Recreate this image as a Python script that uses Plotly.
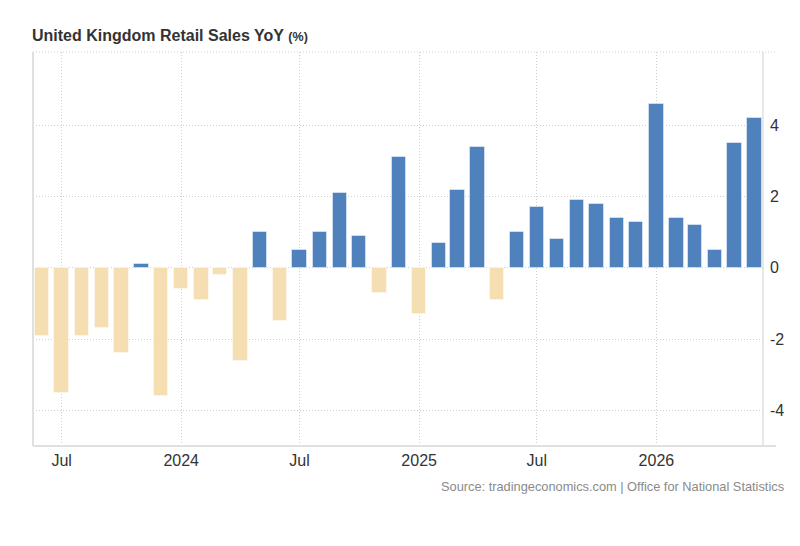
import plotly.graph_objects as go

months = [
    "2023-06-01", "2023-07-01", "2023-08-01", "2023-09-01", "2023-10-01", "2023-11-01", "2023-12-01",
    "2024-01-01", "2024-02-01", "2024-03-01", "2024-04-01", "2024-05-01", "2024-06-01", "2024-07-01",
    "2024-08-01", "2024-09-01", "2024-10-01", "2024-11-01", "2024-12-01",
    "2025-01-01", "2025-02-01", "2025-03-01", "2025-04-01", "2025-05-01", "2025-06-01", "2025-07-01",
    "2025-08-01", "2025-09-01", "2025-10-01", "2025-11-01", "2025-12-01",
    "2026-01-01", "2026-02-01", "2026-03-01", "2026-04-01", "2026-05-01", "2026-06-01",
]
values = [
    -1.9, -3.5, -1.9, -1.7, -2.4, 0.1, -3.6,
    -0.6, -0.9, -0.2, -2.6, 1.0, -1.5, 0.5,
    1.0, 2.1, 0.9, -0.7, 3.1,
    -1.3, 0.7, 2.2, 3.4, -0.9, 1.0, 1.7,
    0.8, 1.9, 1.8, 1.4, 1.3,
    4.6, 1.4, 1.2, 0.5, 3.5, 4.2,
]
tick_dates = ["2023-07-01", "2024-01-01", "2024-07-01", "2025-01-01", "2025-07-01", "2026-01-01"]
tick_labels = ["Jul", "2024", "Jul", "2025", "Jul", "2026"]
y_ticks = [-4, -2, 0, 2, 4]
y_tick_labels = ["-4", "-2", "0", "2", "4"]

POS = "rgb(79,129,189)"
NEG = "rgb(245,222,178)"
colors = [POS if v >= 0 else NEG for v in values]

DAY_MS = 86400000
FONT = "Liberation Sans, Arial, sans-serif"

fig = go.Figure()
fig.add_trace(go.Bar(
    x=months, y=values,
    width=[22 * DAY_MS] * len(values),
    marker=dict(color=colors, line=dict(color="rgba(255,255,255,0.45)", width=1)),
    hoverinfo="x+y",
))

grid = "#cfcfcf"
fig.update_layout(
    width=800, height=546,
    margin=dict(l=33, r=37, t=52, b=100),
    paper_bgcolor="white", plot_bgcolor="white",
    showlegend=False,
    font=dict(family=FONT, color="#333333"),
    xaxis=dict(
        type="date",
        range=["2023-05-18", "2026-06-14"],
        tickvals=tick_dates, ticktext=tick_labels,
        tickfont=dict(size=16, color="#333333"),
        showgrid=True, gridcolor=grid, griddash="1px,2px", gridwidth=1,
        showline=False, zeroline=False, ticks="",
        ticklabelstandoff=3,
    ),
    yaxis=dict(
        side="right",
        range=[-5, 6.06],
        tickvals=y_ticks, ticktext=y_tick_labels,
        tickfont=dict(size=16, color="#333333"),
        showgrid=True, gridcolor=grid, griddash="1px,2px", gridwidth=1,
        zeroline=False, showline=False, ticks="",
        ticklabelstandoff=6,
    ),
    title=dict(
        text="<b>United Kingdom Retail Sales YoY</b> <b><span style='font-size:12.5px'>(%)</span></b>",
        x=32 / 800, xanchor="left", y=1 - 35 / 546, yanchor="middle",
        font=dict(size=16, color="#333333", family=FONT),
    ),
    bargap=0,
)

line_c = "#e0e0e0"
shapes = [
    dict(type="line", xref="paper", yref="paper", x0=0, x1=1 + 12 / 730, y0=1, y1=1,
         line=dict(color=grid, width=1, dash="1px,2px")),
    dict(type="line", xref="paper", yref="paper", x0=0, x1=1 + 13 / 730, y0=0, y1=0,
         line=dict(color=line_c, width=2)),
    dict(type="line", xref="paper", yref="paper", x0=0, x1=0, y0=0, y1=1,
         line=dict(color=line_c, width=2)),
    dict(type="line", xref="paper", yref="paper", x0=1, x1=1, y0=0, y1=1,
         line=dict(color=line_c, width=1.5)),
]
fig.update_layout(shapes=shapes)

fig.add_annotation(
    text="Source: tradingeconomics.com | Office for National Statistics",
    xref="paper", yref="paper", x=(786 - 33) / 730, y=-(487 - 446) / 394,
    xanchor="right", yanchor="middle", showarrow=False,
    font=dict(size=12.8, color="#8a8a8a", family=FONT),
)

fig.write_html("out.html")
